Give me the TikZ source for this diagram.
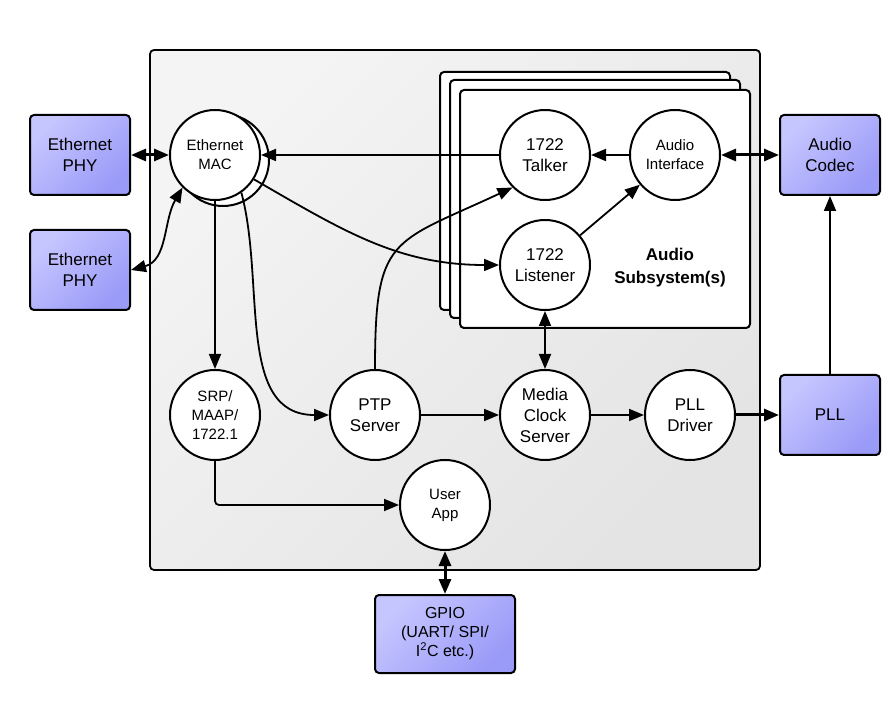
\documentclass[tikz,border=0pt]{standalone}
\usepackage{fontspec}
\setmainfont{Liberation Sans}
\usetikzlibrary{arrows.meta}

\definecolor{hwlight}{HTML}{C6C6FF}
\definecolor{hwdark}{HTML}{9A9AF8}
\definecolor{boxlight}{HTML}{F4F4F4}
\definecolor{boxdark}{HTML}{E4E4E4}

\begin{document}
\begin{tikzpicture}[x=1pt, y=1pt, line width=1.8pt, >={Triangle[length=15pt,width=12pt]},
    main node/.style={circle,draw,fill=white,line width=2pt,minimum size=90pt,inner sep=0pt,align=center,font=\fontsize{17}{21}\selectfont},
    small node/.style={main node,font=\fontsize{15}{19}\selectfont},
    hw node/.style={draw,rounded corners=4pt,line width=2pt,left color=hwlight,right color=hwdark,shading angle=45,minimum width=100pt,minimum height=80pt,align=center,font=\fontsize{17}{21}\selectfont},
    stack box/.style={draw,fill=white,rounded corners=4pt,line width=2pt},
    bus/.style={line width=3pt}]

      \useasboundingbox (0,0) rectangle (896,723);

      % board and audio subsystem stack
      \draw[rounded corners=4pt, left color=boxlight, right color=boxdark, shading angle=45] (150,153) rectangle (760,673);
      \draw[stack box] (440,413) rectangle (730,651);
      \draw[stack box] (450,405) rectangle (740,643);
      \draw[stack box] (460,395) rectangle (750,633);
      \node[font=\bfseries\fontsize{17}{23}\selectfont, align=center] (audsub) at (670,455) {Audio\\Subsystem(s)};

      \node[hw node] (phy1) at (80,568) {Ethernet\\PHY};
      \node[hw node] (phy2) at (80,453) {Ethernet\\PHY};
      \node[hw node] (codec) at (830,568) {Audio\\Codec};
      \node[hw node] (pll) at (830,308) {PLL};
      \node[hw node, minimum width=140pt, minimum height=78pt, font=\fontsize{16}{19}\selectfont] (gpio) at (445,89) {GPIO\\(UART/ SPI/\\I\textsuperscript{2}C etc.)};

      \node[small node, minimum size=92pt] (macback) at (223,563) {};
      \node[small node] (mac) at (215,568) {Ethernet\\MAC};
      \node[main node] (talker) at (545,568) {1722\\Talker};
      \node[small node] (iface) at (675,568) {Audio\\Interface};
      \node[main node] (listener) at (545,458) {1722\\Listener};
      \node[small node] (srp) at (215,308) {SRP/\\MAAP/\\1722.1};
      \node[main node] (ptp) at (375,308) {PTP\\Server};
      \node[main node] (media) at (545,308) {Media\\Clock\\Server};
      \node[main node] (plldrv) at (690,308) {PLL\\Driver};
      \node[small node] (app) at (445,218) {User\\App};

      \path[->]
        (talker) edge (mac)
        (iface) edge (talker)
        (listener) edge (iface)
        (mac) edge (srp)
        (ptp) edge (media)
        (media) edge (plldrv)
        (pll) edge (codec)
        (mac.-32) edge[out=-30, in=180] (listener)
        (mac.-55) edge[out=-75, in=180] (ptp)
        (ptp.north) edge[out=90, in=205, looseness=1.5] (talker.225);

      \draw[->, rounded corners=4pt] (srp) |- (app);

      \path[<->]
        (phy2.east) edge[out=15, in=240] (mac.225)
        (media) edge (listener);

      \path[<->, bus]
        (phy1) edge (mac)
        (iface) edge (codec)
        (app) edge (gpio);
      \path[->, bus] (plldrv) edge (pll);

    \end{tikzpicture}
\end{document}
